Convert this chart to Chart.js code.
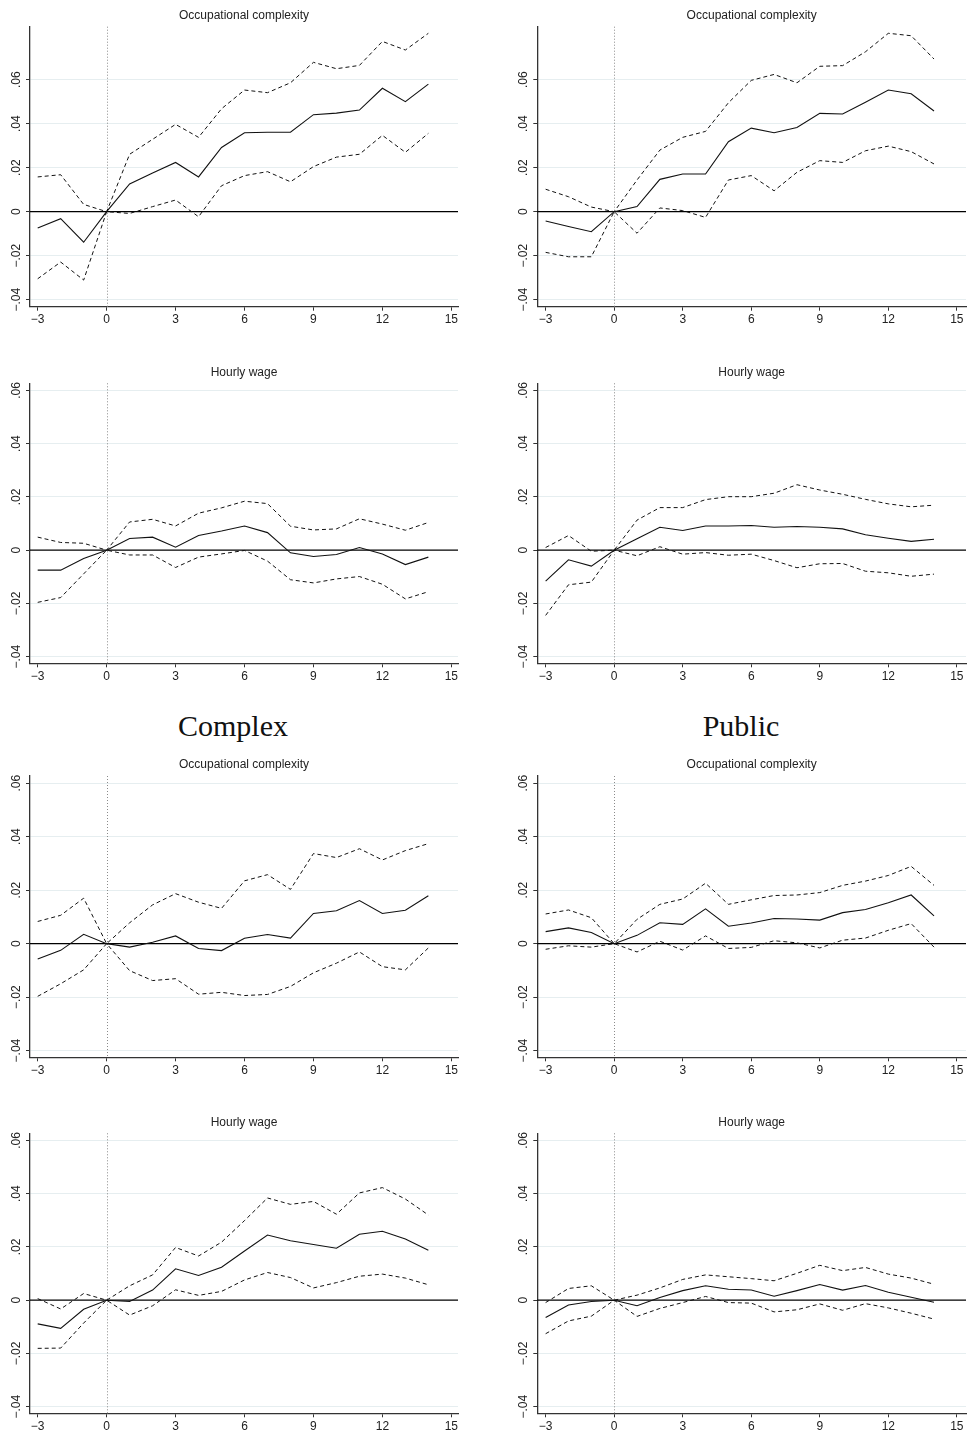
<!DOCTYPE html>
<html>
<head>
<meta charset="utf-8">
<script src="https://cdn.jsdelivr.net/npm/chart.js@4.4.1/dist/chart.umd.min.js"></script>
<style>
  html, body { margin: 0; padding: 0; background: #fff; }
  body { width: 967px; height: 1435px; position: relative; overflow: hidden; }
  canvas { position: absolute; }
  .etiqueta { position: absolute; top: 711px; font-family: "Liberation Serif", "Times New Roman", serif;
              font-size: 30px; line-height: 1; color: #111; transform: translateX(-50%); white-space: nowrap; }
</style>
</head>
<body>
<canvas id="p1" width="484" height="340" style="left:0;top:0"></canvas>
<canvas id="p2" width="483" height="340" style="left:484px;top:0"></canvas>
<canvas id="p3" width="484" height="355" style="left:0;top:345px"></canvas>
<canvas id="p4" width="483" height="355" style="left:484px;top:345px"></canvas>
<div class="etiqueta" style="left:233px">Complex</div>
<div class="etiqueta" style="left:741px">Public</div>
<canvas id="p5" width="484" height="345" style="left:0;top:745px"></canvas>
<canvas id="p6" width="483" height="345" style="left:484px;top:745px"></canvas>
<canvas id="p7" width="484" height="340" style="left:0;top:1095px"></canvas>
<canvas id="p8" width="483" height="340" style="left:484px;top:1095px"></canvas>

<script>
// event time and axis ticks
const periods = [-3, -2, -1, 0, 1, 2, 3, 4, 5, 6, 7, 8, 9, 10, 11, 12, 13, 14];
const xTicks = [-3, 0, 3, 6, 9, 12, 15];
const yTicks = [-0.04, -0.02, 0, 0.02, 0.04, 0.06];

// top block, left column
const occTopLeftEst = [-0.0074, -0.0032, -0.0139, 0, 0.0126, 0.0176, 0.0224, 0.0158, 0.0292, 0.0359, 0.0361, 0.0361, 0.0441, 0.0448, 0.0462, 0.0561, 0.0500, 0.0580];
const occTopLeftHi  = [0.0158, 0.0168, 0.0033, 0, 0.0261, 0.0329, 0.0397, 0.0338, 0.0468, 0.0553, 0.0541, 0.0586, 0.0679, 0.0650, 0.0665, 0.0774, 0.0735, 0.0811];
const occTopLeftLo  = [-0.0305, -0.0229, -0.0311, 0, -0.0008, 0.0023, 0.0053, -0.0023, 0.0118, 0.0164, 0.0182, 0.0136, 0.0205, 0.0248, 0.0261, 0.0347, 0.0270, 0.0356];
const wageTopLeftEst = [-0.0075, -0.0075, -0.0031, 0, 0.0044, 0.0049, 0.0011, 0.0055, 0.0072, 0.0091, 0.0066, -0.0010, -0.0024, -0.0016, 0.0010, -0.0014, -0.0054, -0.0026];
const wageTopLeftHi  = [0.0049, 0.0029, 0.0026, 0, 0.0106, 0.0116, 0.0091, 0.0139, 0.0159, 0.0184, 0.0175, 0.0090, 0.0076, 0.0080, 0.0118, 0.0098, 0.0075, 0.0104];
const wageTopLeftLo  = [-0.0196, -0.0178, -0.0089, 0, -0.0018, -0.0018, -0.0065, -0.0026, -0.0014, -0.0001, -0.0041, -0.0111, -0.0123, -0.0108, -0.0099, -0.0128, -0.0183, -0.0156];

// top block, right column
const occTopRightEst = [-0.0042, -0.0067, -0.0091, 0, 0.0023, 0.0147, 0.0171, 0.0171, 0.0318, 0.0380, 0.0359, 0.0383, 0.0447, 0.0444, 0.0498, 0.0553, 0.0536, 0.0458];
const occTopRightHi  = [0.0102, 0.0068, 0.0021, 0, 0.0144, 0.0280, 0.0338, 0.0365, 0.0495, 0.0597, 0.0624, 0.0586, 0.0661, 0.0664, 0.0727, 0.0811, 0.0800, 0.0694];
const occTopRightLo  = [-0.0185, -0.0205, -0.0205, 0, -0.0098, 0.0017, 0.0005, -0.0026, 0.0144, 0.0164, 0.0095, 0.0179, 0.0232, 0.0224, 0.0277, 0.0298, 0.0273, 0.0217];
const wageTopRightEst = [-0.0116, -0.0036, -0.0060, 0, 0.0043, 0.0086, 0.0074, 0.0091, 0.0091, 0.0093, 0.0086, 0.0089, 0.0086, 0.0080, 0.0058, 0.0045, 0.0033, 0.0041];
const wageTopRightHi  = [0.0010, 0.0055, -0.0004, 0, 0.0113, 0.0160, 0.0160, 0.0190, 0.0201, 0.0201, 0.0214, 0.0246, 0.0226, 0.0210, 0.0191, 0.0174, 0.0163, 0.0169];
const wageTopRightLo  = [-0.0245, -0.0130, -0.0120, 0, -0.0021, 0.0013, -0.0015, -0.0009, -0.0019, -0.0015, -0.0039, -0.0066, -0.0051, -0.0050, -0.0079, -0.0085, -0.0098, -0.0090];

// Complex
const occComplexEst = [-0.0057, -0.0025, 0.0035, 0, -0.0013, 0.0005, 0.0029, -0.0018, -0.0026, 0.0020, 0.0034, 0.0021, 0.0113, 0.0123, 0.0161, 0.0113, 0.0125, 0.0179];
const occComplexHi  = [0.0083, 0.0106, 0.0170, 0, 0.0078, 0.0145, 0.0187, 0.0155, 0.0132, 0.0235, 0.0258, 0.0203, 0.0337, 0.0322, 0.0355, 0.0313, 0.0348, 0.0374];
const occComplexLo  = [-0.0197, -0.0150, -0.0098, 0, -0.0101, -0.0138, -0.0131, -0.0189, -0.0182, -0.0194, -0.0190, -0.0160, -0.0109, -0.0073, -0.0031, -0.0086, -0.0098, -0.0016];
const wageComplexEst = [-0.0089, -0.0106, -0.0034, 0, -0.0005, 0.0038, 0.0118, 0.0093, 0.0124, 0.0185, 0.0245, 0.0223, 0.0209, 0.0195, 0.0248, 0.0259, 0.0230, 0.0188];
const wageComplexHi  = [0.0006, -0.0033, 0.0025, 0, 0.0054, 0.0095, 0.0198, 0.0166, 0.0218, 0.0299, 0.0384, 0.0360, 0.0371, 0.0323, 0.0403, 0.0423, 0.0380, 0.0320];
const wageComplexLo  = [-0.0181, -0.0180, -0.0086, 0, -0.0056, -0.0021, 0.0039, 0.0018, 0.0033, 0.0076, 0.0104, 0.0085, 0.0046, 0.0066, 0.0090, 0.0098, 0.0083, 0.0058];

// Public
const occPublicEst = [0.0045, 0.0059, 0.0042, 0, 0.0031, 0.0078, 0.0072, 0.0130, 0.0065, 0.0077, 0.0094, 0.0092, 0.0088, 0.0116, 0.0128, 0.0153, 0.0182, 0.0104];
const occPublicHi  = [0.0111, 0.0126, 0.0097, 0, 0.0091, 0.0147, 0.0167, 0.0226, 0.0147, 0.0164, 0.0180, 0.0182, 0.0191, 0.0218, 0.0234, 0.0255, 0.0289, 0.0218];
const occPublicLo  = [-0.0021, -0.0008, -0.0013, 0, -0.0031, 0.0009, -0.0024, 0.0029, -0.0018, -0.0014, 0.0011, 0.0003, -0.0016, 0.0013, 0.0021, 0.0050, 0.0075, -0.0013];
const wagePublicEst = [-0.0065, -0.0018, -0.0005, 0, -0.0021, 0.0010, 0.0036, 0.0054, 0.0041, 0.0038, 0.0015, 0.0036, 0.0059, 0.0038, 0.0055, 0.0030, 0.0011, -0.0008];
const wagePublicHi  = [-0.0009, 0.0044, 0.0054, 0, 0.0019, 0.0046, 0.0078, 0.0095, 0.0088, 0.0081, 0.0073, 0.0101, 0.0131, 0.0111, 0.0123, 0.0098, 0.0083, 0.0060];
const wagePublicLo  = [-0.0126, -0.0078, -0.0060, 0, -0.0061, -0.0031, -0.0009, 0.0014, -0.0009, -0.0011, -0.0044, -0.0036, -0.0014, -0.0038, -0.0013, -0.0029, -0.0049, -0.0071];

const TXT = '#222';
const EJE = '#333';
const FUENTE = '"Liberation Sans", Arial, Helvetica, sans-serif';

function fmtX(v) { return v < 0 ? '\u2212' + Math.abs(v) : String(v); }
function fmtY(v) {
    if (Math.abs(v) < 1e-9) return '0';
    return (v < 0 ? '\u2212' : '') + Math.abs(v).toFixed(2).replace(/^0/, '');
}

// titulo, linea en y=0, linea punteada en x=0 y etiquetas verticales del eje y
const pluginStata = {
    id: 'pluginStata',
    beforeDatasetsDraw(chart) {
        const { ctx, chartArea: a, scales: { x, y } } = chart;
        ctx.save();
        const x0 = Math.round(x.getPixelForValue(0)) + 0.5;
        ctx.strokeStyle = '#8a8a8a';
        ctx.lineWidth = 1;
        ctx.setLineDash([1, 2]);
        ctx.beginPath();
        ctx.moveTo(x0, a.top);
        ctx.lineTo(x0, a.bottom);
        ctx.stroke();

        ctx.setLineDash([]);
        const y0 = y.getPixelForValue(0);
        ctx.strokeStyle = '#000';
        ctx.lineWidth = 1.2;
        ctx.beginPath();
        ctx.moveTo(a.left, y0);
        ctx.lineTo(a.right, y0);
        ctx.stroke();
        ctx.restore();
    },
    afterDraw(chart) {
        const { ctx, chartArea: a, scales: { y } } = chart;
        const titulo = chart.options.plugins.pluginStata.titulo;
        ctx.save();
        ctx.fillStyle = TXT;
        ctx.font = '12px ' + FUENTE;
        ctx.textAlign = 'center';
        ctx.textBaseline = 'middle';
        ctx.fillText(titulo, (a.left + a.right) / 2, a.top - 11);

        y.ticks.forEach(t => {
            ctx.save();
            ctx.translate(a.left - 13.5, y.getPixelForValue(t.value));
            ctx.rotate(-Math.PI / 2);
            ctx.fillText(fmtY(t.value), 0, 0);
            ctx.restore();
        });
        ctx.restore();
    }
};

function crearPanel(id, titulo, est, hi, lo, lay) {
    const puntos = arr => periods.map((p, i) => ({ x: p, y: arr[i] }));
    const linea = (arr, dash, w) => ({
        data: puntos(arr),
        borderColor: '#111',
        borderWidth: w,
        borderDash: dash,
        pointRadius: 0,
        tension: 0,
        fill: false
    });

    return new Chart(document.getElementById(id), {
        type: 'line',
        data: {
            datasets: [
                linea(hi, [4, 3], 1),
                linea(lo, [4, 3], 1),
                linea(est, [], 1.1)
            ]
        },
        plugins: [pluginStata],
        options: {
            responsive: false,
            animation: false,
            layout: { padding: { top: lay.top, right: lay.right, left: 0, bottom: 0 } },
            plugins: {
                legend: { display: false },
                tooltip: { enabled: false },
                pluginStata: { titulo }
            },
            scales: {
                x: {
                    type: 'linear',
                    min: lay.xMin,
                    max: lay.xMax,
                    afterBuildTicks: s => { s.ticks = xTicks.map(v => ({ value: v })); },
                    afterFit: s => { s.height = lay.xh; },
                    grid: { drawOnChartArea: false, color: EJE, tickColor: EJE, tickLength: 4 },
                    border: { color: EJE, width: 1.3 },
                    ticks: {
                        color: TXT,
                        font: { family: FUENTE, size: 12 },
                        padding: 2,
                        maxRotation: 0,
                        autoSkip: false,
                        callback: v => fmtX(v)
                    }
                },
                y: {
                    type: 'linear',
                    min: lay.yMin,
                    max: lay.yMax,
                    afterBuildTicks: s => { s.ticks = yTicks.map(v => ({ value: v })); },
                    afterFit: s => { s.width = lay.yw; },
                    grid: {
                        color: c => (c.tick && Math.abs(c.tick.value) < 1e-9) ? 'rgba(0,0,0,0)' : '#e6eef0',
                        tickColor: EJE,
                        tickLength: 4,
                        lineWidth: 1
                    },
                    border: { color: EJE, width: 1.3 },
                    ticks: { display: false }
                }
            }
        }
    });
}

// geometria de cada fila / columna (en pixeles del lienzo)
const colIzq = { yw: 30, right: 26, xMin: -3.335, xMax: 15.29 };
const colDer = { yw: 53.3, right: 1, xMin: -3.365, xMax: 15.40 };
const fila1 = { top: 26.7, xh: 33.3, yMin: -0.0432, yMax: 0.0841 };
const fila2 = { top: 38.3, xh: 36.7, yMin: -0.0425, yMax: 0.0627 };
const fila3 = { top: 31, xh: 32.7, yMin: -0.0425, yMax: 0.0627 };
const fila4 = { top: 38.3, xh: 21.7, yMin: -0.0425, yMax: 0.0627 };

crearPanel('p1', 'Occupational complexity', occTopLeftEst, occTopLeftHi, occTopLeftLo, { ...colIzq, ...fila1 });
crearPanel('p2', 'Occupational complexity', occTopRightEst, occTopRightHi, occTopRightLo, { ...colDer, ...fila1 });
crearPanel('p3', 'Hourly wage', wageTopLeftEst, wageTopLeftHi, wageTopLeftLo, { ...colIzq, ...fila2 });
crearPanel('p4', 'Hourly wage', wageTopRightEst, wageTopRightHi, wageTopRightLo, { ...colDer, ...fila2 });
crearPanel('p5', 'Occupational complexity', occComplexEst, occComplexHi, occComplexLo, { ...colIzq, ...fila3 });
crearPanel('p6', 'Occupational complexity', occPublicEst, occPublicHi, occPublicLo, { ...colDer, ...fila3 });
crearPanel('p7', 'Hourly wage', wageComplexEst, wageComplexHi, wageComplexLo, { ...colIzq, ...fila4 });
crearPanel('p8', 'Hourly wage', wagePublicEst, wagePublicHi, wagePublicLo, { ...colDer, ...fila4 });
</script>
</body>
</html>
